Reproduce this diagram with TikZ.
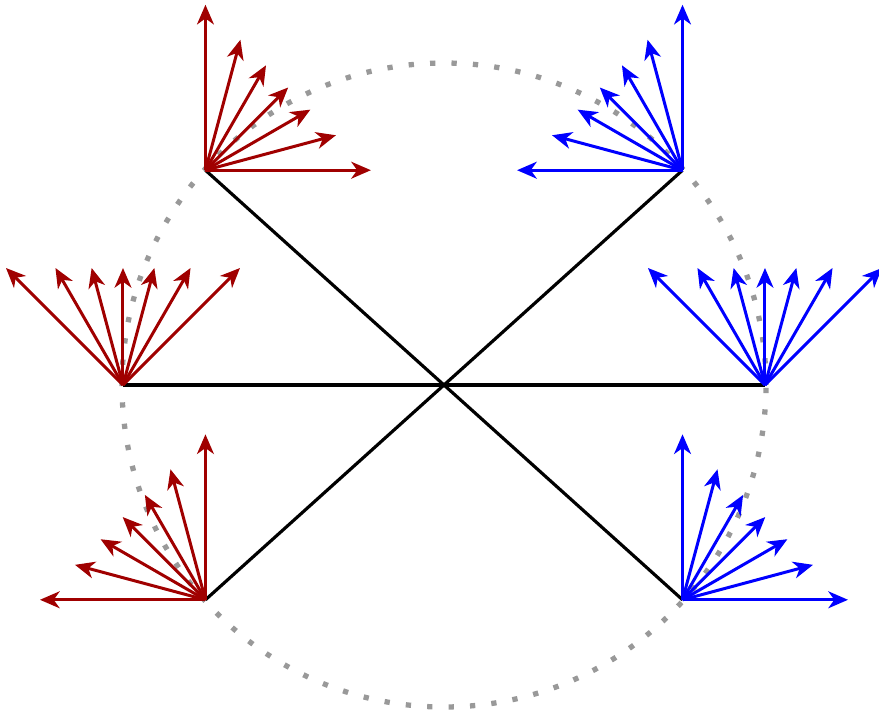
\documentclass[tikz,border=0pt]{standalone}
\usetikzlibrary{arrows.meta}
\definecolor{fanred}{RGB}{160,0,0}
\begin{document}
\begin{tikzpicture}[
    spoke/.style={black, line width=0.9pt},
    ring/.style={gray!80, line width=1.5pt, dash pattern=on 1.5pt off 4.6pt},
    vec/.style={line width=0.85pt, -{Stealth[length=5.6pt,width=4.8pt,inset=1.7pt]}}
  ]
  \useasboundingbox (-4.44,-3.27) rectangle (4.35,3.85);

  % dotted circle
  \coordinate (O) at (0,0);
  \draw[ring] (O) circle (3.22);

  % points on the circle
  \coordinate (A) at (138:3.21);
  \coordinate (B) at (42:3.21);
  \coordinate (C) at (180:3.21);
  \coordinate (D) at (0:3.21);
  \coordinate (E) at (222:3.21);
  \coordinate (F) at (318:3.21);

  % spokes
  \foreach \p in {A,B,C,D,E,F}
    \draw[spoke] (O) -- (\p);

  % fans: point / colour / middle direction
  \foreach \p/\c/\m in {A/fanred/45, C/fanred/90, E/fanred/135, B/blue/135, D/blue/90, F/blue/45}
    \foreach \t in {-45,-30,...,45}
      \draw[vec, \c] (\p) -- ++(\m+\t:{1.17/cos(\t)});
\end{tikzpicture}
\end{document}
